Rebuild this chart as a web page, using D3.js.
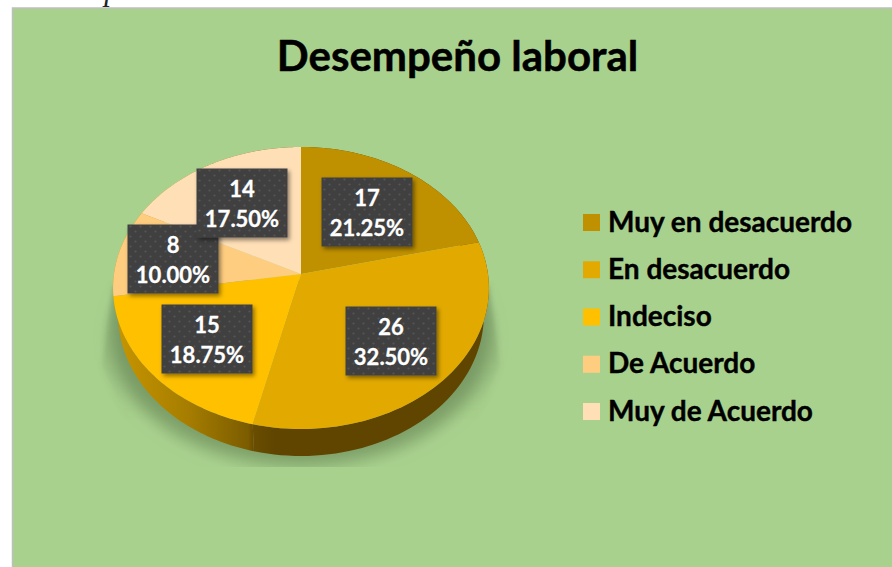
<!DOCTYPE html>
<html>
<head>
<meta charset="utf-8">
<script src="https://cdnjs.cloudflare.com/ajax/libs/d3/7.8.5/d3.min.js"></script>
<style>
  html, body { margin: 0; padding: 0; background: #fff; overflow: hidden; }
  svg { display: block; font-family: Lato, "Open Sans", sans-serif; }
</style>
</head>
<body>
<div id="chart"></div>
<script>
const title = "Desempeño laboral";
const categories = ["Muy en desacuerdo", "En desacuerdo", "Indeciso", "De Acuerdo", "Muy de Acuerdo"];
const counts = [17, 26, 15, 8, 14];
const percents = ["21.25%", "32.50%", "18.75%", "10.00%", "17.50%"];
const colors = ["#BF9000", "#E2AA00", "#FFC000", "#FFCD80", "#FFDFB6"];
// how far out each data label sits, dragged by hand in the original
const labelRadius = [0.5965, 0.647, 0.655, 0.70, 0.632];

const width = 892, height = 567;
const cx = 301, cy = 274, rx = 187, ry = 139.6, tilt = 0.0993, depth = 27;

const svg = d3.select("#chart").append("svg")
  .attr("width", width)
  .attr("height", height);

const defs = svg.append("defs");

const pattern = defs.append("pattern")
  .attr("id", "dots")
  .attr("width", 10).attr("height", 10)
  .attr("patternUnits", "userSpaceOnUse");
pattern.append("rect").attr("width", 10).attr("height", 10).attr("fill", "#404040");
pattern.selectAll("circle").data([[2.5, 2.5], [7.5, 7.5]]).join("circle")
  .attr("cx", d => d[0]).attr("cy", d => d[1]).attr("r", 1.1)
  .attr("fill", "#555");

defs.append("filter").attr("id", "boxShadow")
  .attr("x", "-20%").attr("y", "-20%").attr("width", "140%").attr("height", "140%")
  .append("feDropShadow")
  .attr("dx", 2).attr("dy", 2.5).attr("stdDeviation", 2)
  .attr("flood-color", "#000").attr("flood-opacity", 0.45);

defs.append("filter").attr("id", "blur")
  .attr("x", "-20%").attr("y", "-20%").attr("width", "140%").attr("height", "140%")
  .append("feGaussianBlur").attr("stdDeviation", 8);

defs.append("filter").attr("id", "softEdge")
  .attr("x", "-10%").attr("y", "-10%").attr("width", "120%").attr("height", "120%")
  .append("feGaussianBlur").attr("stdDeviation", 2);

defs.append("clipPath").attr("id", "shadowClip")
  .append("rect").attr("x", 90).attr("y", 280).attr("width", 430).attr("height", 187);

function wallGradient(id, stops) {
  const g = defs.append("linearGradient").attr("id", id)
    .attr("gradientUnits", "userSpaceOnUse")
    .attr("x1", 113).attr("x2", 489).attr("y1", 0).attr("y2", 0);
  g.selectAll("stop").data(stops).join("stop")
    .attr("offset", d => d[0]).attr("stop-color", d => d[1]);
}
wallGradient("wall", [[0, "#C89600"], [0.2, "#A67D00"], [0.36, "#7B5C00"], [0.372, "#6A4D00"], [0.43, "#5F4500"], [1, "#5F4500"]]);

const fade = defs.append("linearGradient").attr("id", "fade")
  .attr("x1", 0).attr("x2", 0).attr("y1", 0).attr("y2", 1);
fade.append("stop").attr("offset", 0).attr("stop-color", "#5F7F50").attr("stop-opacity", 0.4);
fade.append("stop").attr("offset", 1).attr("stop-color", "#5F7F50").attr("stop-opacity", 0);

// page background and the frame of the chart
svg.append("rect").attr("width", width).attr("height", height).attr("fill", "#fff");
svg.append("text")
  .attr("x", 20).attr("y", 0)
  .attr("font-family", "Liberation Serif")
  .attr("font-style", "italic")
  .attr("font-size", 31)
  .attr("fill", "#222")
  .text("Desempeño laboral");
svg.append("rect")
  .attr("x", 12.5).attr("y", 8)
  .attr("width", width).attr("height", height)
  .attr("fill", "#A9D18E")
  .attr("stroke", "#BFBFBF").attr("stroke-width", 1.5);

svg.append("text")
  .attr("x", 457.5).attr("y", 71)
  .attr("text-anchor", "middle")
  .attr("font-weight", 700)
  .attr("font-size", 42)
  .attr("fill", "#000")
  .attr("stroke", "#000").attr("stroke-width", 0.5)
  .text(title);

const pie = d3.pie().sort(null).value(d => d).startAngle(0).endAngle(2 * Math.PI);
const arcs = pie(counts);

// flat pie position to screen, the tilt makes the near side larger
function project(a, r) {
  const u = Math.sin(a) * r, v = -Math.cos(a) * r;
  const w = 1 / (1 - tilt * v);
  return [cx + rx * u * w, cy + ry * v * w];
}
function lower(p) {
  return [cx + (p[0] - cx) * 0.973, p[1] + depth];
}
function rim(a0, a1) {
  return d3.range(0, 61).map(i => project(a0 + (a1 - a0) * i / 60, 1));
}
const line = d3.line();

// soft shadow under the pie: faint wedge at the sides, darker halo close to it
const shadow = svg.append("g").attr("clip-path", "url(#shadowClip)");
shadow.append("path")
  .attr("d", "M113,285L102,365L125,420L477,420L500,365L489,285Z")
  .attr("fill", "url(#fade)")
  .attr("filter", "url(#softEdge)");
shadow.append("ellipse")
  .attr("cx", cx).attr("cy", 338)
  .attr("rx", 190).attr("ry", 128)
  .attr("fill", "#5F7F50").attr("fill-opacity", 0.6)
  .attr("filter", "url(#blur)");

// side walls first, the top covers whatever is hidden
svg.append("g").selectAll("path").data(arcs).join("path")
  .attr("fill", "url(#wall)")
  .attr("d", d => {
    const top = rim(d.startAngle, d.endAngle);
    return line(top.concat(top.slice().reverse().map(lower))) + "Z";
  });

svg.append("g").selectAll("path").data(arcs).join("path")
  .attr("fill", (d, i) => colors[i])
  .attr("d", d => line([[cx, cy]].concat(rim(d.startAngle, d.endAngle))) + "Z");

// data labels
const labelW = 91, labelH = 69;
const labels = svg.append("g").selectAll("g").data(arcs).join("g")
  .attr("transform", (d, i) => {
    const p = project((d.startAngle + d.endAngle) / 2, labelRadius[i]);
    return `translate(${Math.round(p[0])},${Math.round(p[1])})`;
  });
labels.append("rect")
  .attr("x", -labelW / 2).attr("y", -labelH / 2)
  .attr("width", labelW).attr("height", labelH)
  .attr("fill", "url(#dots)")
  .attr("filter", "url(#boxShadow)");
labels.append("text")
  .attr("text-anchor", "middle")
  .attr("fill", "#fff")
  .attr("stroke", "#fff").attr("stroke-width", 0.3)
  .attr("font-weight", 700)
  .attr("font-size", 22)
  .selectAll("tspan")
  .data((d, i) => [counts[i], percents[i]])
  .join("tspan")
  .attr("x", 0)
  .attr("y", (d, i) => i === 0 ? -6.5 : 23.5)
  .text(d => d);

// legend
const legendY = d3.scalePoint().domain(categories).range([222.5, 411.5]);
const legend = svg.append("g").selectAll("g").data(categories).join("g")
  .attr("transform", d => `translate(583,${legendY(d)})`);
legend.append("rect")
  .attr("y", -8.5).attr("width", 17).attr("height", 17)
  .attr("fill", (d, i) => colors[i]);
legend.append("text")
  .attr("x", 25).attr("y", 9)
  .attr("font-weight", 700)
  .attr("font-size", 28)
  .attr("fill", "#000")
  .attr("stroke", "#000").attr("stroke-width", 0.4)
  .text(d => d);
</script>
</body>
</html>
